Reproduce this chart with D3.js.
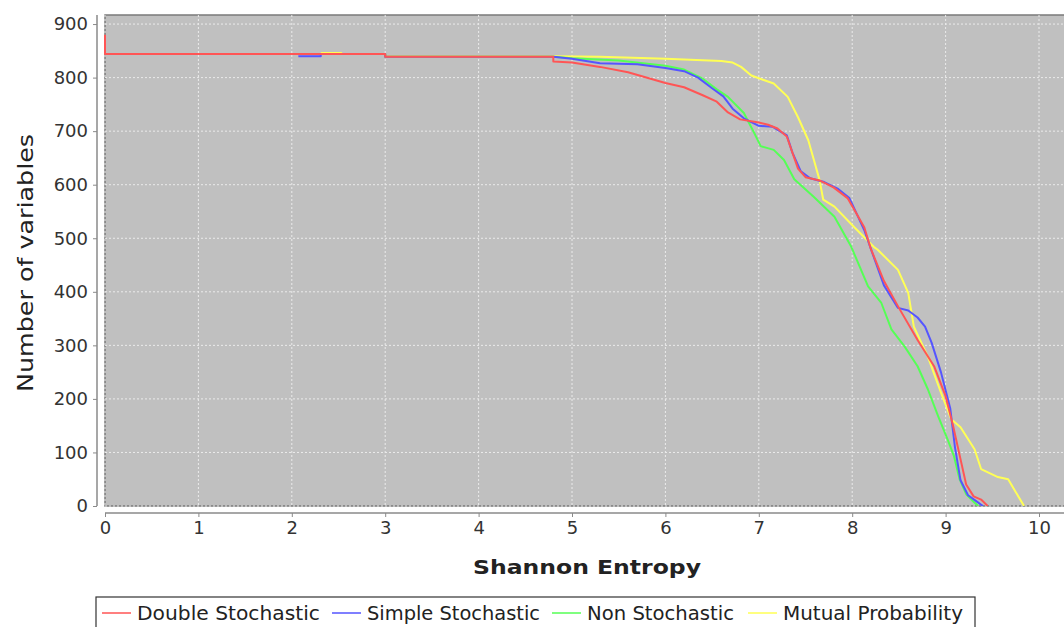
<!DOCTYPE html>
<html>
<head>
<meta charset="utf-8">
<script src="https://cdn.jsdelivr.net/npm/d3@7"></script>
<style>
  body { margin: 0; background: #fff; }
  svg { display: block; font-family: "DejaVu Sans", sans-serif; }
</style>
</head>
<body>
<div id="chart"></div>
<script>
// series: [entropy, number of variables]
const doubleStochastic = [[0,880],[0,844],[3.0,844],[3.0,839],[4.8,839],[4.8,830],[5.0,828],[5.3,820],[5.6,810],[6.0,790],[6.2,782],[6.4,767],[6.55,755],[6.67,735],[6.8,722],[7.0,716],[7.1,712],[7.2,705],[7.3,690],[7.36,660],[7.42,630],[7.5,614],[7.65,608],[7.8,595],[7.95,575],[8.05,545],[8.13,520],[8.2,480],[8.34,420],[8.5,370],[8.7,310],[8.88,260],[9.0,205],[9.08,150],[9.15,95],[9.22,40],[9.3,18],[9.38,12],[9.45,0]];
const simpleStochastic = [[2.07,840],[2.31,840],[2.31,844],[3.0,844],[3.0,839],[4.8,839],[5.0,835],[5.3,827],[5.7,825],[6.0,818],[6.2,812],[6.35,800],[6.5,780],[6.62,765],[6.72,742],[6.84,724],[7.0,710],[7.15,708],[7.3,692],[7.36,660],[7.45,625],[7.55,612],[7.7,605],[7.85,592],[7.97,575],[8.05,545],[8.13,515],[8.2,480],[8.34,412],[8.49,370],[8.6,365],[8.7,352],[8.78,335],[8.85,305],[8.95,250],[9.05,182],[9.1,110],[9.16,48],[9.24,20],[9.32,10],[9.4,0]];
const nonStochastic = [[2.5,844],[3.0,844],[3.0,839],[4.8,839],[5.0,836],[5.5,832],[6.0,822],[6.2,815],[6.4,798],[6.55,778],[6.67,764],[6.84,734],[6.95,697],[7.02,672],[7.16,665],[7.27,646],[7.38,610],[7.59,577],[7.81,540],[7.99,484],[8.17,410],[8.31,380],[8.42,330],[8.56,298],[8.7,261],[8.81,218],[8.92,168],[9.02,125],[9.09,93],[9.15,50],[9.22,22],[9.3,8],[9.35,0]];
const mutualProbability = [[2.31,846],[2.53,846],[2.53,844],[3.0,844],[3.0,840],[4.8,840],[5.3,839],[6.0,835],[6.6,831],[6.72,828],[6.81,820],[6.92,804],[7.06,795],[7.16,789],[7.31,764],[7.42,726],[7.53,683],[7.59,646],[7.65,609],[7.69,572],[7.81,559],[8.02,521],[8.23,484],[8.27,479],[8.49,441],[8.6,398],[8.66,335],[8.81,279],[8.95,212],[9.06,162],[9.16,147],[9.31,106],[9.38,69],[9.56,54],[9.67,50],[9.73,32],[9.84,0]];

const seriesNames = ["Double Stochastic", "Simple Stochastic", "Non Stochastic", "Mutual Probability"];
const seriesColors = ["#ff5555", "#5555ff", "#55ff55", "#ffff55"];
const seriesData = [doubleStochastic, simpleStochastic, nonStochastic, mutualProbability];

const xTicks = [0, 1, 2, 3, 4, 5, 6, 7, 8, 9, 10];
const yTicks = [0, 100, 200, 300, 400, 500, 600, 700, 800, 900];

const W = 1064, H = 627;
const plot = { left: 105, top: 15, right: 1072, bottom: 506 };

const svg = d3.select("#chart").append("svg")
    .attr("width", W)
    .attr("height", H);

const x = d3.scaleLinear()
    .domain([0, (plot.right - plot.left) / 93.4])
    .range([plot.left, plot.right]);

const y = d3.scaleLinear()
    .domain([0, (plot.bottom - plot.top) / 0.5355])
    .range([plot.bottom, plot.top]);

//plot background
svg.append("rect")
    .attr("x", plot.left)
    .attr("y", plot.top)
    .attr("width", plot.right - plot.left)
    .attr("height", plot.bottom - plot.top)
    .attr("fill", "#c0c0c0")
    .attr("stroke", "#7a7a7a")
    .attr("stroke-width", 1.5);

//grid
svg.append("g")
    .selectAll("line")
    .data(xTicks)
    .join("line")
    .attr("x1", d => x(d)).attr("x2", d => x(d))
    .attr("y1", plot.top).attr("y2", plot.bottom)
    .attr("stroke", "#ebebeb")
    .attr("stroke-width", 1)
    .attr("stroke-dasharray", "2,2");

svg.append("g")
    .selectAll("line")
    .data(yTicks)
    .join("line")
    .attr("x1", plot.left).attr("x2", plot.right)
    .attr("y1", d => y(d)).attr("y2", d => y(d))
    .attr("stroke", "#ebebeb")
    .attr("stroke-width", 1)
    .attr("stroke-dasharray", "2,2");

//axes
const xAxis = svg.append("g")
    .attr("transform", "translate(0,513)")
    .call(d3.axisBottom(x).tickValues(xTicks).tickSize(4).tickPadding(4).tickSizeOuter(0));

const yAxis = svg.append("g")
    .attr("transform", "translate(97,0)")
    .call(d3.axisLeft(y).tickValues(yTicks).tickSize(4).tickPadding(5).tickSizeOuter(0));

[xAxis, yAxis].forEach(a => {
    a.select(".domain").attr("stroke", "#8a8a8a").attr("stroke-width", 1.5);
    a.selectAll(".tick line").attr("stroke", "#8a8a8a");
    a.selectAll("text")
        .attr("fill", "#333")
        .style("font-size", "18px")
        .style("font-family", "'DejaVu Sans', sans-serif");
});
yAxis.select(".domain").attr("d", `M0,${plot.top}V${plot.bottom}`);
xAxis.select(".domain").attr("d", `M${plot.left},0H${plot.right}`);

//axis labels
svg.append("text")
    .attr("x", 587)
    .attr("y", 574)
    .attr("text-anchor", "middle")
    .attr("fill", "#222")
    .attr("textLength", 228)
    .attr("lengthAdjust", "spacingAndGlyphs")
    .style("font-size", "20px")
    .style("font-weight", "bold")
    .text("Shannon Entropy");

svg.append("text")
    .attr("transform", "translate(33,263) rotate(-90)")
    .attr("text-anchor", "middle")
    .attr("fill", "#222")
    .attr("textLength", 258)
    .attr("lengthAdjust", "spacingAndGlyphs")
    .style("font-size", "21px")
    .text("Number of variables");

//lines, last series drawn first
svg.append("clipPath").attr("id", "plot-clip")
    .append("rect")
    .attr("x", plot.left - 2).attr("y", plot.top - 2)
    .attr("width", plot.right - plot.left + 2).attr("height", plot.bottom - plot.top + 2);

const line = d3.line()
    .x(d => x(d[0]))
    .y(d => y(d[1]));

const lines = svg.append("g").attr("clip-path", "url(#plot-clip)");
d3.range(seriesData.length).reverse().forEach(i => {
    lines.append("path")
        .datum(seriesData[i])
        .attr("fill", "none")
        .attr("stroke", seriesColors[i])
        .attr("stroke-width", 2)
        .attr("stroke-linejoin", "round")
        .attr("d", line);
});

//legend
const legendX = [100, 330, 550, 746];
const legendTextWidth = [183, 173, 147, 180];
const legend = svg.append("g");
legend.append("rect")
    .attr("x", 96).attr("y", 597)
    .attr("width", 879).attr("height", 40)
    .attr("fill", "#fff")
    .attr("stroke", "#333")
    .attr("stroke-width", 1.2);

const items = legend.selectAll("g.item")
    .data(seriesNames)
    .join("g")
    .attr("class", "item")
    .attr("transform", (d, i) => `translate(${legendX[i]},613)`);

items.append("line")
    .attr("x1", 2).attr("x2", 31)
    .attr("stroke", (d, i) => seriesColors[i])
    .attr("stroke-width", 1.5);

items.append("text")
    .attr("x", 37)
    .attr("y", 7)
    .attr("fill", "#222")
    .attr("textLength", (d, i) => legendTextWidth[i])
    .attr("lengthAdjust", "spacingAndGlyphs")
    .style("font-size", "19px")
    .text(d => d);
</script>
</body>
</html>
